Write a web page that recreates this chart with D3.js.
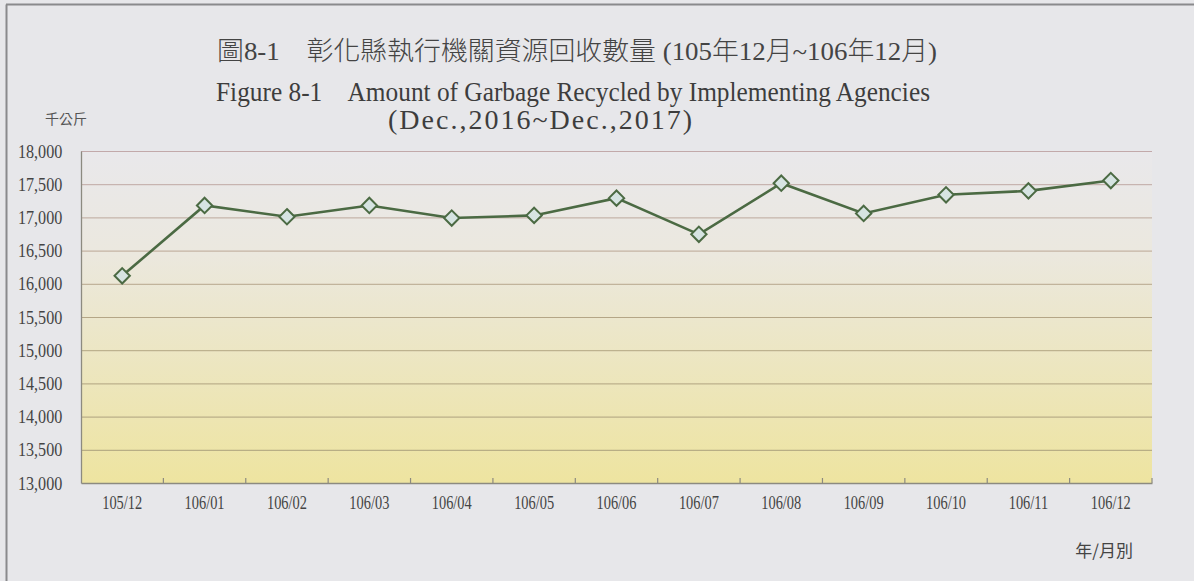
<!DOCTYPE html>
<html lang="zh-Hant">
<head>
<meta charset="UTF-8">
<script src="https://d3js.org/d3.v7.min.js"></script>
<title>圖8-1</title>
<style>
  body { margin: 0; background: #e7e7ea; }
  .serif { font-family: "Liberation Serif", "Times New Roman", Times, serif; }
  .cjk { font-family: "Noto Sans CJK TC", "Noto Sans CJK SC", sans-serif; }
</style>
</head>
<body>
<script>
    var width = 1194;
    var height = 581;

    var months = ["105/12", "106/01", "106/02", "106/03", "106/04", "106/05", "106/06",
                  "106/07", "106/08", "106/09", "106/10", "106/11", "106/12"];
    var amounts = [16120, 17180, 17010, 17180, 16990, 17030, 17290,
                   16745, 17515, 17060, 17340, 17400, 17555];
    var yTicks = [13000, 13500, 14000, 14500, 15000, 15500, 16000, 16500, 17000, 17500, 18000];

    var margin = {top: 151, right: 42, bottom: 98, left: 81};

    var svg = d3.select("body").append("svg")
            .attr("width", width)
            .attr("height", height);

    // frame
    svg.append("rect").attr("x", 0).attr("y", 0).attr("width", width).attr("height", height).attr("fill", "#e7e7ea");
    svg.append("line").attr("x1", 6.5).attr("y1", 4.5).attr("x2", 6.5).attr("y2", height).attr("stroke", "#8a8a8c").attr("stroke-width", 2);
    svg.append("line").attr("x1", 6).attr("y1", 4.5).attr("x2", width).attr("y2", 4.5).attr("stroke", "#8a8a8c").attr("stroke-width", 2);

    var x = d3.scaleBand()
            .domain(months)
            .range([margin.left, width - margin.right]);

    var y = d3.scaleLinear()
            .domain([13000, 18000])
            .range([height - margin.bottom, margin.top]);

    var defs = svg.append("defs");
    var grad = defs.append("linearGradient").attr("id", "bg").attr("x1", 0).attr("y1", 0).attr("x2", 0).attr("y2", 1);
    grad.append("stop").attr("offset", "0%").attr("stop-color", "#e9e8eb");
    grad.append("stop").attr("offset", "30%").attr("stop-color", "#ebe8df");
    grad.append("stop").attr("offset", "100%").attr("stop-color", "#eee4a0");

    svg.append("rect")
            .attr("x", margin.left)
            .attr("y", margin.top)
            .attr("width", width - margin.right - margin.left)
            .attr("height", height - margin.bottom - margin.top)
            .attr("fill", "url(#bg)");

    var gridColor = d3.scaleLinear()
            .domain([13000, 15500, 18000])
            .range(["#a9a079", "#b4a686", "#c2a9aa"]);

    svg.selectAll(".grid")
            .data(yTicks.slice(1))
            .enter()
            .append("line")
            .attr("x1", margin.left)
            .attr("x2", width - margin.right)
            .attr("y1", function (d) { return y(d) + 0.5; })
            .attr("y2", function (d) { return y(d) + 0.5; })
            .attr("stroke", function (d) { return gridColor(d); })
            .attr("stroke-width", 1);

    // y axis (condensed serif labels, like the printed original)
    var yAxis = svg.append("g")
            .attr("transform", "translate(" + margin.left + ",0)")
            .call(d3.axisLeft(y).tickValues(yTicks).tickFormat(d3.format(",")).tickSize(0).tickPadding(22));
    yAxis.select(".domain").attr("stroke", "#8c8a80").attr("stroke-width", 1.3);
    yAxis.selectAll("text").attr("class", "serif").attr("transform", "scale(0.85,1)")
            .style("font-size", "19px").style("fill", "#444");

    // x axis
    var xAxis = svg.append("g")
            .attr("transform", "translate(0," + (height - margin.bottom) + ")")
            .call(d3.axisBottom(x).tickSize(0).tickPadding(13));
    xAxis.select(".domain").attr("stroke", "#8c8a80").attr("stroke-width", 1.5);
    xAxis.selectAll("text").attr("class", "serif").attr("transform", "scale(0.8,1)")
            .style("font-size", "18px").style("fill", "#444");

    // tick marks between categories
    svg.selectAll(".xtick")
            .data(months)
            .enter()
            .append("line")
            .attr("x1", function (d) { return x(d) + x.bandwidth(); })
            .attr("x2", function (d) { return x(d) + x.bandwidth(); })
            .attr("y1", height - margin.bottom)
            .attr("y2", height - margin.bottom - 5)
            .attr("stroke", "#8c8a80")
            .attr("stroke-width", 1.2);

    // line
    var line = d3.line()
            .x(function (d, i) { return x(months[i]) + x.bandwidth() / 2; })
            .y(function (d) { return y(d); });

    svg.append("path")
            .datum(amounts)
            .attr("d", line)
            .attr("fill", "none")
            .attr("stroke", "#4b6a43")
            .attr("stroke-width", 2.6);

    svg.selectAll(".pt")
            .data(amounts)
            .enter()
            .append("path")
            .attr("d", d3.symbol().type(d3.symbolDiamond2).size(150))
            .attr("transform", function (d, i) {
                return "translate(" + (x(months[i]) + x.bandwidth() / 2) + "," + y(d) + ")";
            })
            .attr("fill", "#d6e4e2")
            .attr("stroke", "#4b6a43")
            .attr("stroke-width", 2);

    // titles
    svg.append("text")
            .attr("x", 217).attr("y", 60)
            .attr("textLength", 720).attr("lengthAdjust", "spacingAndGlyphs")
            .style("font-size", "26px").style("fill", "#444").style("font-weight", 300)
            .style("font-family", "'Liberation Serif', 'Noto Sans CJK TC', serif")
            .text("圖8-1　彰化縣執行機關資源回收數量 (105年12月~106年12月)");

    svg.append("text")
            .attr("class", "serif")
            .attr("x", 216).attr("y", 101)
            .attr("textLength", 714).attr("lengthAdjust", "spacingAndGlyphs")
            .style("font-size", "28px").style("fill", "#3d3d3d")
            .text("Figure 8-1\u00a0\u00a0\u00a0\u00a0Amount of Garbage Recycled by Implementing Agencies");

    svg.append("text")
            .attr("class", "serif")
            .attr("x", 388).attr("y", 129)
            .attr("textLength", 304).attr("lengthAdjust", "spacing")
            .style("font-size", "28px").style("fill", "#3d3d3d")
            .text("(Dec.,2016~Dec.,2017)");

    // unit labels
    svg.append("text")
            .attr("class", "cjk")
            .attr("x", 66).attr("y", 124)
            .attr("text-anchor", "middle")
            .style("font-size", "14px").style("fill", "#555")
            .text("千公斤");

    svg.append("text")
            .attr("class", "cjk")
            .attr("x", 1133).attr("y", 557)
            .attr("text-anchor", "end")
            .style("font-size", "17px").style("fill", "#444")
            .text("年/月別");
</script>
</body>
</html>
